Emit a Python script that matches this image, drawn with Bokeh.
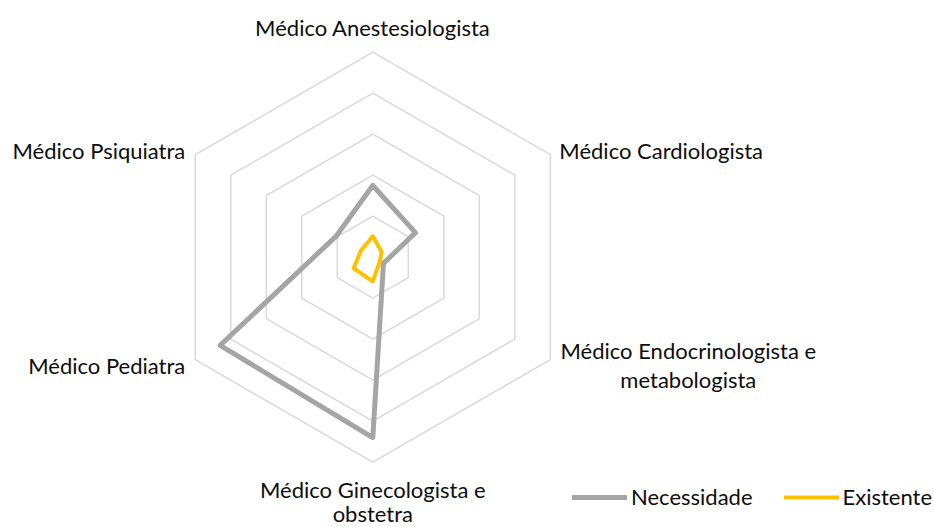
import numpy as np
from bokeh.plotting import figure
from bokeh.models import Legend, LegendItem, ColumnDataSource
from bokeh.core.properties import value
from bokeh.embed import file_html
from bokeh.resources import INLINE

# ---- data ----
categories = ["Médico Anestesiologista", "Médico Cardiologista",
              "Médico Endocrinologista e metabologista", "Médico Ginecologista e obstetra",
              "Médico Pediatra", "Médico Psiquiatra"]
label_lines = [["Médico Anestesiologista"], ["Médico Cardiologista"],
               ["Médico Endocrinologista e", "metabologista"],
               ["Médico Ginecologista e", "obstetra"],
               ["Médico Pediatra"], ["Médico Psiquiatra"]]
necessidade = [17.5, 12, 3, 44, 43, 10.3]
existente = [5.1, 2.5, 2.0, 5.9, 5.4, 3.3]
ring_values = [10, 20, 30, 40, 50]
series_names = ["Necessidade", "Existente"]

# ---- layout ----
W, H = 934, 527
CX, CY = 372.3, 256.7          # centre of radar in canvas pixels (from top-left)
PX_PER_UNIT = 4.1
FONT = "Lato"
FONT_SIZE = "22px"
TEXT_COLOR = "#0d0d0d"

n = len(categories)
angles = np.pi / 2 - np.arange(n) * 2 * np.pi / n

p = figure(width=W, height=H, output_backend="svg", toolbar_location=None,
           x_range=(-CX / PX_PER_UNIT, (W - CX) / PX_PER_UNIT),
           y_range=(-(H - CY) / PX_PER_UNIT, CY / PX_PER_UNIT),
           x_axis_type=None, y_axis_type=None, min_border=0,
           outline_line_color=None, background_fill_color="white",
           border_fill_color="white")
p.grid.visible = False

# grid rings
ring_xs, ring_ys = [], []
for r in ring_values:
    xs = list(r * np.cos(angles)); ys = list(r * np.sin(angles))
    ring_xs.append(xs + xs[:1]); ring_ys.append(ys + ys[:1])
p.multi_line(ring_xs, ring_ys, line_color="#d9d9d9", line_width=1.5)

def closed(vals):
    xs = list(np.array(vals) * np.cos(angles)); ys = list(np.array(vals) * np.sin(angles))
    return xs + xs[:1], ys + ys[:1]

nx, ny = closed(necessidade)
ex, ey = closed(existente)
r1 = p.line(nx, ny, line_color="#a5a5a5", line_width=5, line_join="round", line_cap="round")
r2 = p.line(ex, ey, line_color="#ffc000", line_width=4, line_join="round", line_cap="round")

# category labels at outer vertex with pixel offsets
R = ring_values[-1]
label_style = [("center", 0, [-25]),
               ("left", 9, [-4.5]),
               ("center", 138, [-9, 19.5]),
               ("center", 0, [27.5, 51.5]),
               ("right", -10, [5.5]),
               ("right", -10, [-4.5])]
lx, ly, lt, la, lxo, lyo = [], [], [], [], [], []
for i, lines in enumerate(label_lines):
    align, xo, yos = label_style[i]
    for line, yo in zip(lines, yos):
        lx.append(R * np.cos(angles[i])); ly.append(R * np.sin(angles[i]))
        lt.append(line); la.append(align); lxo.append(xo); lyo.append(yo)
src = ColumnDataSource(dict(x=lx, y=ly, text=lt, align=la, xo=lxo, yo=lyo))
p.text(x="x", y="y", text="text", source=src, text_align="align", x_offset="xo", y_offset="yo",
       text_baseline="alphabetic", text_font=value(FONT), text_font_size=FONT_SIZE,
       text_color=TEXT_COLOR)

legend = Legend(items=[LegendItem(label=series_names[0], renderers=[r1]),
                       LegendItem(label=series_names[1], renderers=[r2])],
                orientation="horizontal", location=(572, 17),
                glyph_width=55, glyph_height=24, label_height=24, label_standoff=4,
                spacing=31, padding=0, margin=0, border_line_color=None,
                background_fill_alpha=0, label_text_font=FONT,
                label_text_font_size=FONT_SIZE, label_text_color=TEXT_COLOR)
p.add_layout(legend)

open("out.html", "w").write(file_html(p, INLINE))
